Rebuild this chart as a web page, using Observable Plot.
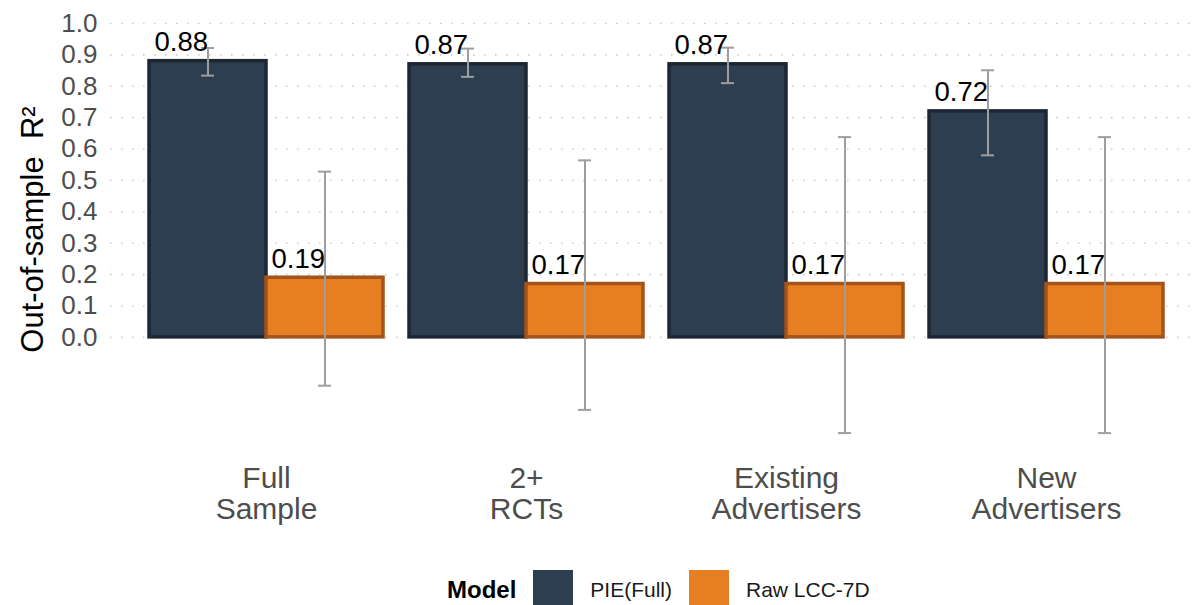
<!DOCTYPE html>
<html>
<head>
<meta charset="utf-8">
<script src="https://cdn.jsdelivr.net/npm/d3@7"></script>
<script src="https://cdn.jsdelivr.net/npm/@observablehq/plot@0.6"></script>
<style>
  html, body { margin: 0; padding: 0; background: #ffffff; overflow: hidden; }
  body { width: 1192px; height: 605px; position: relative; font-family: "Liberation Sans", Arial, Helvetica, sans-serif; }
  #legend { position: absolute; top: 570px; left: 447px; height: 40px; display: flex; align-items: center; gap: 17px; }
  #legend .title { font-weight: bold; font-size: 24px; color: #000; }
  #legend .swatch { width: 40px; height: 40px; }
  #legend .label { font-size: 21px; color: #1a1a1a; }
</style>
</head>
<body>
<div id="chart"></div>
<div id="legend"></div>
<script>
// Sample subsets shown along the x axis
const categories = ["Full\nSample", "2+\nRCTs", "Existing\nAdvertisers", "New\nAdvertisers"];
const models = ["PIE(Full)", "Raw LCC-7D"];

// Out-of-sample R² with interval bounds, per model
const pieR2 = [0.88, 0.87, 0.87, 0.72];
const pieLo = [0.834, 0.830, 0.810, 0.580];
const pieHi = [0.922, 0.920, 0.923, 0.851];

const rawR2 = [0.19, 0.17, 0.17, 0.17];
const rawLo = [-0.154, -0.231, -0.305, -0.305];
const rawHi = [0.528, 0.564, 0.638, 0.638];

const yTicks = [0, 0.1, 0.2, 0.3, 0.4, 0.5, 0.6, 0.7, 0.8, 0.9, 1.0];

const fills = ["#2C3E50", "#E67E22"];
const strokes = ["#1C2733", "#A3531C"];

// Long table: one row per bar
const series = [
  {value: pieR2, lo: pieLo, hi: pieHi},
  {value: rawR2, lo: rawLo, hi: rawHi}
];
const rows = [];
categories.forEach((c, i) => {
  series.forEach((s, m) => {
    rows.push({cat: i, model: m, value: s.value[i], lo: s.lo[i], hi: s.hi[i]});
  });
});

// Dodged layout inside each category group (units of the x scale)
const barW = 0.45;
const capW = 0.025;
const left = d => d.cat - barW + d.model * barW;
const center = d => left(d) + barW / 2;

const grey = "#4d4d4d";

const chart = Plot.plot({
  width: 1192,
  height: 545,
  marginLeft: 110,
  marginRight: 0,
  marginTop: 23,
  marginBottom: 92,
  style: {fontFamily: "'Liberation Sans', Arial, Helvetica, sans-serif", background: "#ffffff"},
  x: {type: "linear", domain: [-0.6, 3.5615]},
  y: {domain: [-0.37, 1.0]},
  marks: [
    Plot.gridY(yTicks, {stroke: "#cfcfcf", strokeOpacity: 1, strokeWidth: 1.6, strokeDasharray: "1.6,9.4"}),
    ...models.map((m, k) => Plot.rectY(rows.filter(d => d.model === k), {
      x1: left,
      x2: d => left(d) + barW,
      y1: 0,
      y2: "value",
      fill: fills[k],
      stroke: strokes[k],
      strokeWidth: 3.5
    })),
    Plot.ruleX(rows, {x: center, y1: "lo", y2: "hi", stroke: "#9e9e9e", strokeWidth: 2}),
    Plot.ruleY(rows, {y: "lo", x1: d => center(d) - capW, x2: d => center(d) + capW, stroke: "#9e9e9e", strokeWidth: 2}),
    Plot.ruleY(rows, {y: "hi", x1: d => center(d) - capW, x2: d => center(d) + capW, stroke: "#9e9e9e", strokeWidth: 2}),
    Plot.text(rows, {
      x: center,
      y: "value",
      text: d => d3.format(".2f")(d.value),
      textAnchor: "end",
      lineAnchor: "bottom",
      dy: -10,
      fontSize: 27.5,
      fill: "#000000"
    }),
    Plot.axisY({
      ticks: yTicks,
      tickFormat: d3.format(".1f"),
      tickSize: 0,
      tickPadding: 13,
      fontSize: 26,
      fill: grey,
      label: null
    }),
    Plot.axisX({
      ticks: categories.map((c, i) => i),
      tickFormat: i => categories[i],
      tickSize: 0,
      tickPadding: 12,
      fontSize: 30,
      lineHeight: 1.05,
      fill: grey,
      label: null
    }),
    Plot.text(["Out-of-sample  R²"], {
      frameAnchor: "left",
      textAnchor: "middle",
      rotate: -90,
      dx: -77,
      dy: -9,
      fontSize: 31,
      fill: "#000000"
    })
  ]
});
document.getElementById("chart").appendChild(chart);

// Legend below the chart
const legend = document.getElementById("legend");
const title = document.createElement("span");
title.className = "title";
title.textContent = "Model";
legend.appendChild(title);
models.forEach((m, k) => {
  const sw = document.createElement("span");
  sw.className = "swatch";
  sw.style.background = fills[k];
  legend.appendChild(sw);
  const lb = document.createElement("span");
  lb.className = "label";
  lb.textContent = m;
  legend.appendChild(lb);
});
</script>
</body>
</html>
